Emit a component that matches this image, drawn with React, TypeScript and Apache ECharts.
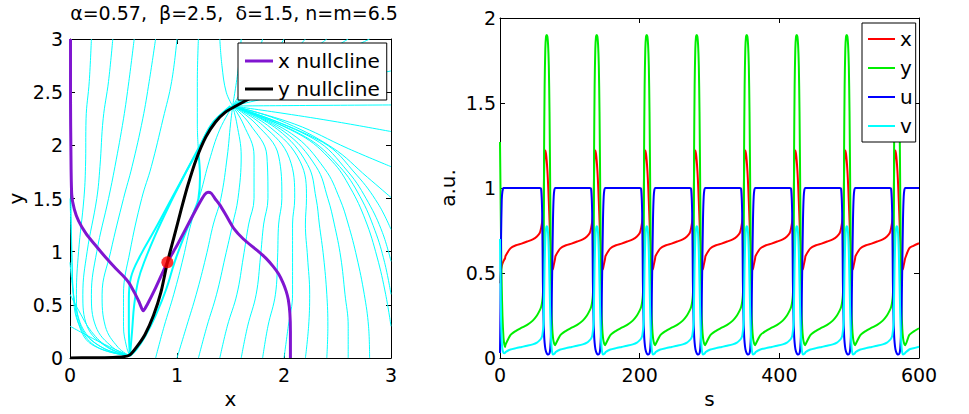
import React, { useEffect, useRef } from "react";
import * as echarts from "echarts";

const FONT = "DejaVu Sans";

// ---------- Phase plane (left panel) ----------
const fixedPoint = [0.91, 0.9];

const xNullcline = [
  [0.005, 3], [0.005, 2.4], [0.008, 2.0], [0.016, 1.54], [0.04, 1.4], [0.08, 1.29],
  [0.15, 1.17], [0.23, 1.07], [0.33, 0.95], [0.43, 0.84], [0.5, 0.77], [0.55, 0.71],
  [0.6, 0.62], [0.645, 0.53], [0.685, 0.445], [0.72, 0.5], [0.8, 0.66], [0.91, 0.9],
  [1.0, 1.06], [1.1, 1.25], [1.2, 1.44], [1.26, 1.54], [1.29, 1.56], [1.32, 1.55],
  [1.355, 1.5], [1.4, 1.44], [1.46, 1.34], [1.53, 1.22], [1.62, 1.12], [1.74, 1.02],
  [1.83, 0.94], [1.9, 0.86], [1.95, 0.79], [1.99, 0.71], [2.02, 0.63], [2.04, 0.55],
  [2.055, 0.42], [2.06, 0.25], [2.06, 0],
];

const yNullcline = [
  [0, 0.002], [0.2, 0.003], [0.4, 0.006], [0.5, 0.012], [0.56, 0.03], [0.62, 0.1],
  [0.7, 0.22], [0.78, 0.4], [0.85, 0.62], [0.91, 0.9], [0.97, 1.13], [1.04, 1.4],
  [1.1, 1.62], [1.18, 1.87], [1.27, 2.08], [1.36, 2.22], [1.45, 2.31], [1.55, 2.37],
  [1.7, 2.45], [1.9, 2.55],
];

// closed orbit: rising branch, then the two descending branches from the node near (1.52, 2.37)
const limitCycle = [
  [[0.56, 0.02], [0.62, 0.08], [0.7, 0.2], [0.8, 0.4], [0.9, 0.65], [0.98, 0.91], [1.08, 1.18], [1.16, 1.38], [1.2, 1.5], [1.215, 1.7], [1.2, 1.93]],
  [[1.52, 2.37], [1.34, 2.22], [1.2, 1.96], [1.1, 1.78], [0.95, 1.5], [0.8, 1.22], [0.65, 0.95], [0.57, 0.76], [0.55, 0.55], [0.55, 0.3], [0.56, 0.02]],
  [[1.5, 2.37], [1.33, 2.2], [1.2, 1.97], [1.06, 1.7], [0.92, 1.42], [0.79, 1.14], [0.7, 0.92], [0.64, 0.74], [0.6, 0.5], [0.58, 0.25], [0.56, 0.02]],
];

const topEdgeTrajectories = [
  [[0.2, 3], [0.18, 2.6], [0.15, 2.25], [0.145, 1.8], [0.13, 1.5], [0.08, 1.0], [0.06, 0.6], [0.1, 0.3], [0.3, 0.1], [0.56, 0.02]],
  [[0.4, 3], [0.36, 2.6], [0.31, 2.25], [0.28, 1.8], [0.25, 1.5], [0.16, 1.0], [0.12, 0.6], [0.16, 0.3], [0.35, 0.1], [0.56, 0.02]],
  [[0.6, 3], [0.55, 2.6], [0.5, 2.25], [0.42, 1.8], [0.36, 1.5], [0.25, 1.0], [0.2, 0.6], [0.24, 0.3], [0.4, 0.1], [0.56, 0.02]],
  [[0.8, 3], [0.74, 2.6], [0.68, 2.25], [0.58, 1.8], [0.5, 1.5], [0.38, 1.0], [0.3, 0.6], [0.33, 0.3], [0.45, 0.1], [0.56, 0.02]],
  [[1.0, 3], [0.95, 2.6], [0.87, 2.25], [0.76, 1.8], [0.67, 1.5], [0.56, 1.0], [0.5, 0.6], [0.5, 0.3], [0.53, 0.1], [0.56, 0.02]],
  [[1.2, 3], [1.19, 2.6], [1.19, 2.2], [1.2, 1.95]],
  [[1.4, 3], [1.42, 2.75], [1.46, 2.5], [1.52, 2.37]],
  [[1.6, 3], [1.57, 2.7], [1.52, 2.37]],
  [[1.8, 3], [1.7, 2.7], [1.52, 2.37]],
  [[2.0, 3], [1.82, 2.72], [1.52, 2.37]],
  [[2.2, 3], [1.95, 2.74], [1.52, 2.37]],
  [[2.4, 3], [2.08, 2.76], [1.52, 2.37]],
  [[2.6, 3], [2.2, 2.76], [1.52, 2.37]],
  [[2.8, 3], [2.33, 2.77], [1.52, 2.37]],
];

const leftEdgeTrajectories = [
  [[0, 0.3], [0.28, 0.15], [0.56, 0.02]],
  [[0, 0.6], [0.08, 0.45], [0.2, 0.25], [0.36, 0.1], [0.56, 0.02]],
  [[0, 0.9], [0.02, 0.7], [0.06, 0.45], [0.15, 0.23], [0.32, 0.09], [0.56, 0.02]],
  [[0, 1.5], [0.01, 1.2], [0.02, 0.85], [0.04, 0.55], [0.1, 0.28], [0.26, 0.1], [0.56, 0.02]],
  [[0, 2.7], [0.005, 2.1], [0.01, 1.4], [0.02, 0.9], [0.03, 0.6], [0.07, 0.35], [0.2, 0.13], [0.56, 0.02]],
];

const bottomEdgeTrajectories = [
  [[0.2, 0.004], [0.4, 0.01], [0.56, 0.02]],
  [[0.8, 0], [0.88, 0.3], [0.97, 0.6], [1.06, 0.95], [1.13, 1.26], [1.22, 1.55], [1.3, 1.85], [1.4, 2.15], [1.52, 2.37]],
  [[1.0, 0], [1.09, 0.3], [1.18, 0.6], [1.27, 0.95], [1.34, 1.26], [1.41, 1.5], [1.47, 1.9], [1.5, 2.2], [1.52, 2.37]],
  [[1.2, 0], [1.28, 0.3], [1.37, 0.6], [1.45, 0.95], [1.52, 1.26], [1.57, 1.5], [1.6, 1.9], [1.56, 2.2], [1.52, 2.37]],
  [[1.4, 0], [1.47, 0.3], [1.56, 0.6], [1.62, 0.95], [1.67, 1.26], [1.72, 1.5], [1.72, 1.9], [1.62, 2.2], [1.52, 2.37]],
  [[1.6, 0], [1.66, 0.3], [1.74, 0.6], [1.78, 0.95], [1.81, 1.26], [1.85, 1.5], [1.84, 1.9], [1.68, 2.2], [1.52, 2.37]],
  [[1.8, 0], [1.85, 0.3], [1.92, 0.6], [1.94, 0.95], [1.95, 1.26], [1.98, 1.5], [1.95, 1.9], [1.74, 2.2], [1.52, 2.37]],
  [[2.0, 0], [2.04, 0.3], [2.08, 0.6], [2.08, 0.95], [2.08, 1.26], [2.1, 1.5], [2.05, 1.88], [1.8, 2.19], [1.52, 2.37]],
  [[2.2, 0], [2.23, 0.3], [2.24, 0.6], [2.22, 0.95], [2.2, 1.26], [2.21, 1.5], [2.15, 1.85], [1.87, 2.17], [1.52, 2.37]],
  [[2.4, 0], [2.41, 0.3], [2.4, 0.6], [2.37, 0.95], [2.33, 1.26], [2.3, 1.5], [2.22, 1.82], [1.94, 2.15], [1.52, 2.37]],
  [[2.6, 0], [2.6, 0.3], [2.57, 0.6], [2.53, 0.95], [2.47, 1.26], [2.41, 1.5], [2.3, 1.8], [2.0, 2.13], [1.52, 2.37]],
  [[2.8, 0], [2.79, 0.3], [2.75, 0.6], [2.68, 0.95], [2.6, 1.26], [2.52, 1.5], [2.38, 1.78], [2.07, 2.11], [1.52, 2.37]],
];

const rightEdgeTrajectories = [
  [[3, 0.3], [2.95, 0.6], [2.87, 0.95], [2.76, 1.3], [2.62, 1.6], [2.45, 1.85], [2.15, 2.1], [1.52, 2.37]],
  [[3, 0.6], [2.94, 0.9], [2.85, 1.2], [2.71, 1.52], [2.52, 1.8], [2.2, 2.08], [1.52, 2.37]],
  [[3, 0.91], [2.92, 1.18], [2.79, 1.46], [2.6, 1.75], [2.28, 2.06], [1.52, 2.37]],
  [[3, 1.21], [2.88, 1.45], [2.68, 1.72], [2.36, 2.03], [1.52, 2.37]],
  [[3, 1.51], [2.78, 1.7], [2.45, 1.98], [1.95, 2.24], [1.52, 2.37]],
  [[3, 1.8], [2.6, 1.97], [2.1, 2.2], [1.52, 2.37]],
  [[3, 2.13], [2.5, 2.22], [2.0, 2.3], [1.52, 2.37]],
  [[3, 2.38], [2.2, 2.375], [1.52, 2.37]],
  [[3, 2.7], [2.3, 2.55], [1.52, 2.37]],
];

// ---------- Time courses (right panel) ----------
// opening transient, t = 0 .. 7.2 s
const startT = [0, 0.7, 1.5, 2.5, 3.5, 5, 6.2, 7.2];
const startX = [0.44, 0.49, 0.52, 0.54, 0.555, 0.57, 0.58, 0.585];
const startY = [1.27, 1.0, 0.7, 0.42, 0.25, 0.12, 0.08, 0.065];
const startU = [0.03, 0.3, 0.7, 0.93, 0.98, 1.0, 1.0, 1.0];
const startV = [0.7, 0.45, 0.22, 0.1, 0.05, 0.03, 0.028, 0.03];

// times of the y maxima (s)
const peakTimes = [66.9, 138.5, 210.1, 281.7, 353.3, 424.9, 496.5, 568.1];

// one oscillation, sampled at offsets (s) from a y maximum
const cycleOffsets = [-59, -52, -44, -36, -28, -20, -14, -10, -8, -6.5, -5.5, -4.5, -3.8, -3, -2, -1, 0, 1, 2, 3, 4, 5, 6, 7, 8, 9, 10, 11, 12];
const cycleX = [0.6, 0.645, 0.663, 0.673, 0.685, 0.698, 0.715, 0.735, 0.765, 0.8, 0.84, 0.92, 1.08, 1.2, 1.22, 1.2, 1.16, 1.1, 1.02, 0.92, 0.81, 0.69, 0.59, 0.535, 0.52, 0.525, 0.545, 0.565, 0.585];
const cycleY = [0.078, 0.135, 0.16, 0.178, 0.195, 0.22, 0.25, 0.28, 0.3, 0.33, 0.37, 0.5, 1.2, 1.6, 1.82, 1.89, 1.9, 1.89, 1.84, 1.72, 1.45, 1.0, 0.5, 0.28, 0.17, 0.12, 0.095, 0.082, 0.075];
const cycleU = [1, 1, 1, 1, 1, 1, 1, 1, 0.995, 0.85, 0.45, 0.22, 0.14, 0.09, 0.055, 0.038, 0.028, 0.022, 0.02, 0.02, 0.028, 0.055, 0.13, 0.3, 0.55, 0.82, 0.95, 0.99, 1.0];
const cycleV = [0.035, 0.05, 0.058, 0.065, 0.072, 0.08, 0.09, 0.105, 0.115, 0.13, 0.16, 0.2, 0.35, 0.55, 0.7, 0.76, 0.775, 0.77, 0.73, 0.62, 0.44, 0.26, 0.13, 0.06, 0.03, 0.02, 0.02, 0.025, 0.03];

// last stretch up to t = 600 s
const tailT = [586, 592, 600];
const tailX = [0.645, 0.66, 0.675];
const tailY = [0.135, 0.155, 0.175];
const tailU = [1, 1, 1];
const tailV = [0.05, 0.057, 0.066];

function timeCourse(start: number[], cycle: number[], tail: number[]): number[][] {
  const pts: number[][] = startT.map((t, i) => [t, start[i]]);
  peakTimes.forEach((tp) => {
    cycleOffsets.forEach((off, i) => pts.push([+(tp + off).toFixed(2), cycle[i]]));
  });
  tailT.forEach((t, i) => pts.push([t, tail[i]]));
  return pts;
}

const CYAN = "#00ffff";
const PURPLE = "#8015d0";

const labelStyle = { color: "#000", fontFamily: FONT, fontSize: 19 };
const nameStyle = { color: "#000", fontFamily: FONT, fontSize: 20 };

function axis(extra: any) {
  return {
    type: "value",
    axisLine: { show: true, onZero: false, lineStyle: { color: "#000", width: 1 } },
    axisTick: { show: true, inside: true, length: 5, lineStyle: { color: "#000", width: 1 } },
    splitLine: { show: false },
    ...extra,
  };
}

export default function App() {
  const ref = useRef<HTMLDivElement>(null);

  useEffect(() => {
    document.body.style.margin = "0";
    if (!ref.current) return;
    const chart = echarts.init(ref.current, undefined, { renderer: "svg" });

    const traj = (data: number[][], width = 1) => ({
      type: "line",
      xAxisIndex: 0,
      yAxisIndex: 0,
      data,
      symbol: "none",
      smooth: 0.4,
      silent: true,
      lineStyle: { color: CYAN, width },
      z: 2,
    });

    const phaseSeries = [
      ...topEdgeTrajectories.map((d) => traj(d)),
      ...leftEdgeTrajectories.map((d) => traj(d)),
      ...bottomEdgeTrajectories.map((d) => traj(d)),
      ...rightEdgeTrajectories.map((d) => traj(d)),
      ...limitCycle.map((d) => traj(d, 2)),
      {
        name: "x nullcline",
        type: "line",
        xAxisIndex: 0,
        yAxisIndex: 0,
        data: xNullcline,
        symbol: "none",
        smooth: 0.25,
        lineStyle: { color: PURPLE, width: 3 },
        itemStyle: { color: PURPLE },
        z: 3,
      },
      {
        name: "y nullcline",
        type: "line",
        xAxisIndex: 0,
        yAxisIndex: 0,
        data: yNullcline,
        symbol: "none",
        smooth: 0.25,
        lineStyle: { color: "#000", width: 3 },
        itemStyle: { color: "#000" },
        z: 3,
      },
      {
        type: "scatter",
        xAxisIndex: 0,
        yAxisIndex: 0,
        data: [fixedPoint],
        symbolSize: 12,
        itemStyle: { color: "#ff0000" },
        z: 5,
      },
    ];

    const tc = (name: string, color: string, data: number[][]) => ({
      name,
      type: "line",
      xAxisIndex: 2,
      yAxisIndex: 2,
      data,
      symbol: "none",
      smooth: 0.25,
      lineStyle: { color, width: 2 },
      itemStyle: { color },
      z: 3,
    });

    const timeSeries = [
      tc("x", "#ff0000", timeCourse(startX, cycleX, tailX)),
      tc("y", "#00ee00", timeCourse(startY, cycleY, tailY)),
      tc("u", "#0000ff", timeCourse(startU, cycleU, tailU)),
      tc("v", CYAN, timeCourse(startV, cycleV, tailV)),
    ];

    chart.setOption({
      animation: false,
      backgroundColor: "#fff",
      title: {
        text: "α=0.57,  β=2.5,  δ=1.5, n=m=6.5",
        left: 229,
        top: -2,
        textAlign: "center",
        textStyle: { color: "#000", fontFamily: FONT, fontSize: 19, fontWeight: "normal" },
      },
      legend: [
        {
          data: ["x nullcline", "y nullcline"],
          orient: "vertical",
          left: 238,
          top: 43,
          padding: [8, 7, 1, 7],
          icon: "rect",
          itemWidth: 28,
          itemHeight: 3,
          itemGap: 8,
          selectedMode: false,
          backgroundColor: "#fff",
          borderColor: "#000",
          borderWidth: 1,
          textStyle: { color: "#000", fontFamily: FONT, fontSize: 20, lineHeight: 20 },
        },
        {
          data: ["x", "y", "u", "v"],
          orient: "vertical",
          left: 862,
          top: 23,
          padding: [6, 3, 6, 6],
          icon: "rect",
          itemWidth: 27,
          itemHeight: 2,
          itemGap: 9,
          selectedMode: false,
          backgroundColor: "#fff",
          borderColor: "#000",
          borderWidth: 1,
          textStyle: { color: "#000", fontFamily: FONT, fontSize: 20, lineHeight: 20 },
        },
      ],
      grid: [
        { left: 70, top: 39, width: 321, height: 320 },
        { left: 500, top: 18, width: 419, height: 340 },
      ],
      xAxis: [
        axis({
          gridIndex: 0, min: 0, max: 3, interval: 1, position: "bottom",
          name: "x", nameLocation: "middle", nameGap: 30, nameTextStyle: nameStyle,
          axisLabel: { ...labelStyle, margin: 7 },
        }),
        axis({ gridIndex: 0, min: 0, max: 3, interval: 1, position: "top", axisLabel: { show: false } }),
        axis({
          gridIndex: 1, min: 0, max: 600, interval: 200, position: "bottom",
          name: "s", nameLocation: "middle", nameGap: 30, nameTextStyle: nameStyle,
          axisLabel: { ...labelStyle, margin: 7 },
        }),
        axis({ gridIndex: 1, min: 0, max: 600, interval: 200, position: "top", axisLabel: { show: false } }),
      ],
      yAxis: [
        axis({
          gridIndex: 0, min: 0, max: 3, interval: 0.5, position: "left",
          name: "y", nameLocation: "middle", nameGap: 44, nameTextStyle: nameStyle,
          axisLabel: { ...labelStyle, margin: 7 },
        }),
        axis({ gridIndex: 0, min: 0, max: 3, interval: 0.5, position: "right", axisLabel: { show: false } }),
        axis({
          gridIndex: 1, min: 0, max: 2, interval: 0.5, position: "left",
          name: "a.u.", nameLocation: "middle", nameGap: 42, nameTextStyle: nameStyle,
          axisLabel: { ...labelStyle, margin: 4 },
        }),
        axis({ gridIndex: 1, min: 0, max: 2, interval: 0.5, position: "right", axisLabel: { show: false } }),
      ],
      series: [...phaseSeries, ...timeSeries],
    });

    return () => chart.dispose();
  }, []);

  return <div ref={ref} style={{ width: 969, height: 414 }} />;
}
